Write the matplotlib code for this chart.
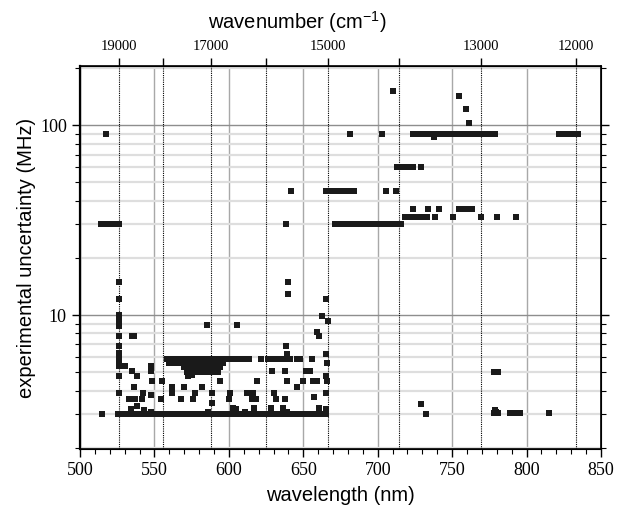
import numpy as np
import matplotlib.pyplot as plt
from matplotlib.ticker import FixedLocator, NullFormatter, LogLocator

plt.rcParams['mathtext.fontset'] = 'custom'
plt.rcParams['mathtext.rm'] = 'Liberation Sans'
plt.rcParams['mathtext.it'] = 'Liberation Sans:italic'

# dense rows of points, wavelength in nm, grouped by uncertainty (MHz)
row_3_nm = [525.5, 528, 530.5, 533, 535.5, 538, 540.5, 543, 545.5, 548, 550.5, 553,
            555.5, 558, 560.5, 563, 565.5, 568, 570.5, 573, 575.5, 578, 580.5, 583,
            585.5, 588, 590.5, 593, 595.5, 598, 600.5, 603, 605.5, 608, 610.5, 613,
            615.5, 618, 620.5, 623, 625.5, 628, 630.5, 633, 635.5, 638, 640.5, 643,
            645.5, 648, 650.5, 653, 655.5, 658, 660.5, 663, 665.5]
row_30_nm = [514, 516, 518, 520, 522, 524, 526.5,
             671, 673.5, 676, 678.5, 681, 683.5, 686, 688.5, 691, 693.5, 696, 698.5,
             701, 703.5, 706, 708.5, 711, 713.5, 715.4]
row_45_nm = [665, 667.5, 670, 674, 676.5, 679, 681.5, 684]
row_60_nm = [713, 715.5, 718, 720.5, 723.5]
row_90_nm = [724, 726.5, 729, 731.5, 734, 736.5, 739, 741.5, 744, 746.5, 749, 751,
             753.5, 756, 758.5, 761, 763.5, 766, 768.5, 771, 773, 776, 779,
             825, 827.5, 830, 832.5, 834.5]
row_33_nm = [718.3, 720.5, 723, 725.5, 728, 730.5, 733]
row_36_nm = [754.5, 757, 760.5, 763.5]
row_59_nm = [558.5, 561, 563.5, 566, 568.5, 571, 573.5, 576, 578.5, 581, 583.5, 586,
             588.5, 591, 593.5, 596, 598.5, 601, 603.5, 606, 608.5, 611, 613.5,
             621.4, 626, 628.5, 631, 633.5, 636, 638.5, 641, 645.5, 648, 656]
row_56_nm = [560, 563, 566, 569, 572, 575, 578, 581, 584, 587, 590, 593, 596]
row_53_nm = [570, 573, 576, 579, 582, 585, 588, 591, 594]
row_50_nm = [572, 575, 578, 581, 584, 587, 590, 593]

# single points: wavelength (nm) and uncertainty (MHz)
single_nm = [514.6, 517.5,
             526, 526, 526.2, 526.2, 526.2, 526.2, 526, 526, 526, 526, 526, 526, 526, 526,
             535, 536.5, 530, 535, 538.5, 536.5, 542, 532.8, 536.8, 541.7, 534, 538, 543,
             547.5, 547.5, 548.6, 548, 548, 555.3, 554.5, 585.1, 562, 561.5, 570, 568,
             576, 577.5, 581.7, 572.3, 575, 586, 589, 588.5,
             605.3, 594, 619, 629, 638, 639, 652, 654.5, 650, 656.8, 659, 645.5,
             600.8, 612, 616.4, 630.5, 600.4, 615.3, 618.2, 631.7, 637.8, 657,
             603, 604.7, 617, 628.6, 636.4, 660.4, 611, 639,
             638.4, 639, 659, 660.5, 662.8, 666.4, 665.4, 665.5, 666, 665.3, 666, 665.3, 665.3,
             640, 640, 641.7, 638.4,
             710, 754.6, 759, 761, 681.4, 702.7, 738, 822, 729,
             705.6, 712, 723.5, 733.5, 741, 738.5, 750.3, 769.4, 780, 793,
             729, 732.2, 778, 779.5, 781, 778.5, 789, 791, 793, 795.5, 815,
             778, 780.5]
single_mhz = [3, 90,
              15, 12.1, 10, 9.5, 9.1, 8.8, 7.8, 6.9, 6.3, 6.0, 5.6, 5.4, 4.8, 3.9,
              7.8, 7.8, 5.4, 5.1, 4.8, 4.2, 3.9, 3.6, 3.6, 3.6, 3.2, 3.3, 3.15,
              5.4, 5.1, 4.5, 3.8, 3.1, 4.5, 3.6, 8.9, 4.2, 3.9, 4.2, 3.6,
              3.6, 3.9, 4.2, 4.8, 4.85, 3.1, 3.45, 3.9,
              8.9, 4.5, 4.5, 5.1, 5.1, 4.5, 5.1, 5.1, 4.5, 4.5, 4.5, 4.2,
              3.9, 3.9, 3.9, 3.9, 3.6, 3.6, 3.6, 3.6, 3.6, 3.7,
              3.25, 3.2, 3.25, 3.25, 3.25, 3.25, 3.1, 3.1,
              6.9, 6.2, 8.1, 7.8, 9.9, 9.3, 12.2, 6.2, 5.6, 4.8, 4.5, 3.9, 3.2,
              15, 12.9, 45, 30,
              151, 143, 121, 103, 90, 90, 87, 90, 60,
              45, 45, 36, 36, 36, 33, 33, 33, 33, 33,
              3.4, 3, 3.05, 3.1, 3.05, 3.15, 3.05, 3.05, 3.05, 3.05, 3.05,
              5, 5]

wn_ticks = [19000, 18000, 17000, 16000, 15000, 14000, 13000, 12000]
wn_labels = ['19000', '', '17000', '', '15000', '', '13000', '12000']

rows = [(row_3_nm, 3), (row_30_nm, 30), (row_45_nm, 45), (row_60_nm, 60),
        (row_90_nm, 90), (row_33_nm, 33), (row_36_nm, 36), (row_59_nm, 5.9),
        (row_56_nm, 5.6), (row_53_nm, 5.3), (row_50_nm, 5.0)]
wl = list(single_nm)
unc = list(single_mhz)
for xs, v in rows:
    wl += xs
    unc += [v] * len(xs)

fig = plt.figure(figsize=(6.18, 5.07), dpi=100)
ax = fig.add_axes([80/618, 1-449/507, 521/618, 383/507])

ax.scatter(wl, unc, marker='s', s=25, color='#1a1a1a', linewidths=0, zorder=3)

ax.set_yscale('log')
ax.set_xlim(500, 850)
ax.set_ylim(1.97, 205)

ax.set_xticks(np.arange(500, 851, 50))
ax.xaxis.set_minor_locator(FixedLocator(np.arange(500, 851, 10)))
ax.set_yticks([10, 100], labels=['10', '100'])
ax.yaxis.set_minor_locator(LogLocator(base=10, subs=np.arange(2, 10)))
ax.yaxis.set_minor_formatter(NullFormatter())

ax.grid(which='major', axis='x', color='#a8a8a8', lw=1.0)
ax.grid(which='major', axis='y', color='#8e8e8e', lw=1.0)
ax.grid(which='minor', axis='y', color='#dedede', lw=1.6)
ax.set_axisbelow(True)

for wn in wn_ticks:
    ax.axvline(1e7 / wn, color='k', lw=0.8, linestyle=(0, (1, 1)), zorder=2)

ax.tick_params(which='both', direction='out', right=True, top=False, color='k')
ax.tick_params(which='major', length=6, width=1)
ax.tick_params(which='minor', length=3.5, width=0.8)
for lab in ax.get_xticklabels() + ax.get_yticklabels():
    lab.set_family('Liberation Serif')
    lab.set_fontsize(13)

for sp in ax.spines.values():
    sp.set_color('k')
    sp.set_linewidth(1.2)
ax.spines['left'].set_linewidth(1.6)

ax.set_xlabel('wavelength (nm)', family='Liberation Sans', fontsize=14.5, labelpad=5)
ax.set_ylabel('experimental uncertainty (MHz)', family='Liberation Sans', fontsize=14.5, labelpad=3)

top = ax.twiny()
top.set_xlim(ax.get_xlim())
top.set_xticks([1e7 / wn for wn in wn_ticks], labels=wn_labels)
top.tick_params(direction='out', length=6, width=1, color='k')
for lab in top.get_xticklabels():
    lab.set_family('Liberation Serif')
    lab.set_fontsize(10.5)
fig.text(297/618, 1-22/507, 'wavenumber (cm$^{-1}$)', family='Liberation Sans',
         fontsize=14.5, ha='center', va='center')

fig.savefig('out.png', dpi=100)
